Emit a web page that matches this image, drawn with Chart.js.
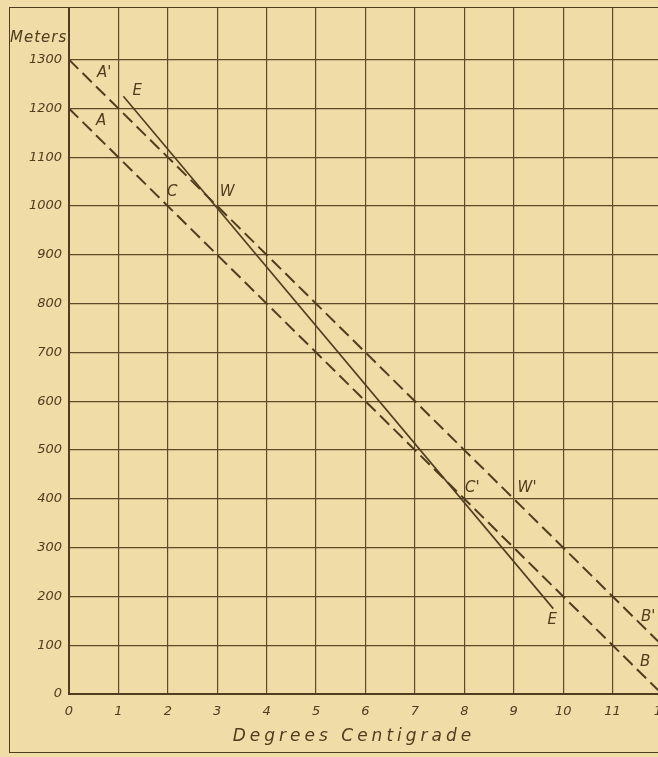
<!DOCTYPE html>
<html>
<head>
<meta charset="utf-8">
<script src="https://cdn.jsdelivr.net/npm/chart.js@4/dist/chart.umd.min.js"></script>
<style>
  html, body { margin: 0; padding: 0; background: #f0dca6; overflow: hidden; }
  #wrap { position: relative; width: 658px; height: 757px; overflow: hidden; }
  #frame {
    position: absolute; left: 9px; top: 7px; width: 720px; height: 746px;
    border: 1.5px solid #4e3d1f; box-sizing: border-box;
  }
  #chart { position: absolute; left: 0; top: 0; }
</style>
</head>
<body>
<div id="wrap">
  <div id="frame"></div>
  <canvas id="chart" width="684" height="757"></canvas>
</div>
<script>
// values
const xTicks = [0, 1, 2, 3, 4, 5, 6, 7, 8, 9, 10, 11, 12];
const yTicks = [0, 100, 200, 300, 400, 500, 600, 700, 800, 900, 1000, 1100, 1200, 1300];
const lineAB2 = [{x: 0, y: 1300}, {x: 12, y: 100}];   // A' ... B'
const lineAB = [{x: 0, y: 1200}, {x: 12, y: 0}];      // A ... B
const lineEE = [{x: 1.1, y: 1225}, {x: 9.8, y: 175}]; // E ... E
const pointLabels = ["A'", "E", "A", "C", "W", "C'", "W'", "E", "B'", "B"];
const labelX = [0.71, 1.38, 0.65, 2.09, 3.2, 8.16, 9.27, 9.78, 11.72, 11.66];
const labelY = [1272, 1236, 1174, 1029, 1029, 422, 422, 152, 158, 66];
const yTitle = "Meters";
const xTitle = "Degrees Centigrade";

(function(){
  const ink = "#4e3d1f";
  const gridInk = "#5c4a28";

  const annotate = {
    id: "annotate",
    afterDatasetsDraw(chart){
      const ctx = chart.ctx;
      const sx = chart.scales.x, sy = chart.scales.y;
      ctx.save();
      ctx.fillStyle = ink;
      ctx.font = "italic 15px 'DejaVu Sans', sans-serif";
      ctx.textAlign = "center";
      ctx.textBaseline = "middle";
      pointLabels.forEach((t, i) => {
        ctx.fillText(t, sx.getPixelForValue(labelX[i]), sy.getPixelForValue(labelY[i]));
      });
      // axis words
      ctx.textAlign = "left";
      ctx.textBaseline = "alphabetic";
      ctx.font = "italic 15px 'DejaVu Sans', sans-serif";
      ctx.letterSpacing = "1px";
      ctx.fillText(yTitle, 10, 42);
      ctx.textAlign = "center";
      ctx.font = "italic 17px 'DejaVu Sans', sans-serif";
      ctx.letterSpacing = "4px";
      ctx.fillText(xTitle, sx.left + 285, 741);
      ctx.restore();
    }
  };

  new Chart(document.getElementById("chart"), {
    type: "scatter",
    data: {
      datasets: [
        { data: lineAB2, showLine: true, borderColor: ink, borderWidth: 2, borderDash: [13, 6], pointRadius: 0 },
        { data: lineAB, showLine: true, borderColor: ink, borderWidth: 2, borderDash: [13, 6], pointRadius: 0 },
        { data: lineEE, showLine: true, borderColor: ink, borderWidth: 1.6, pointRadius: 0 }
      ]
    },
    options: {
      responsive: false,
      devicePixelRatio: 1,
      animation: false,
      layout: { padding: { left: 0, top: 8, right: 22, bottom: 0 } },
      plugins: { legend: { display: false }, tooltip: { enabled: false } },
      scales: {
        x: {
          type: "linear", min: 0, max: 12,
          afterBuildTicks: s => { s.ticks = xTicks.map(v => ({value: v})); },
          afterFit: s => { s.height = 63; s.paddingLeft = 0; s.paddingRight = 0; },
          grid: { color: gridInk, lineWidth: 1.2, drawTicks: false },
          border: { color: ink, width: 2 },
          ticks: { color: ink, font: { family: "DejaVu Sans", style: "italic", size: 13 }, padding: 10, maxRotation: 0, autoSkip: false,
            callback: v => String(v) }
        },
        y: {
          type: "linear", min: 0, max: 1406,
          afterBuildTicks: s => { s.ticks = yTicks.map(v => ({value: v})); },
          afterFit: s => { s.width = 69; s.paddingTop = 0; s.paddingBottom = 0; },
          grid: { color: gridInk, lineWidth: 1.2, drawTicks: false },
          border: { color: ink, width: 2 },
          ticks: { color: ink, font: { family: "DejaVu Sans", style: "italic", size: 13 }, padding: 7, autoSkip: false,
            callback: v => String(v) }
        }
      }
    },
    plugins: [annotate]
  });
})();
</script>
</body>
</html>
